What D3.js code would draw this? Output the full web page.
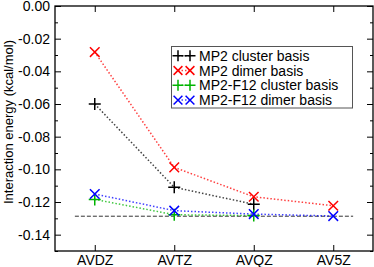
<!DOCTYPE html>
<html>
<head>
<meta charset="utf-8">
<script src="https://cdn.jsdelivr.net/npm/d3@7"></script>
<style>
  body { margin: 0; background: #fff; }
  svg { display: block; font-family: "Liberation Sans", Arial, sans-serif; }
</style>
</head>
<body>
<div class="canvas"></div>
<script>
// Data
const basisSets = ['AVDZ', 'AVTZ', 'AVQZ', 'AV5Z'];
const mp2Cluster = [-0.0600, -0.1110, -0.1214];
const mp2Dimer = [-0.0282, -0.0988, -0.1168, -0.1223];
const f12Cluster = [-0.1184, -0.1278, -0.1283];
const f12Dimer = [-0.1151, -0.1253, -0.1274, -0.1286];
const referenceEnergy = -0.1287;
const yTicks = [0, -0.02, -0.04, -0.06, -0.08, -0.10, -0.12, -0.14];

const seriesList = [
    {name: 'MP2 cluster basis', values: mp2Cluster, color: '#000000', marker: 'plus'},
    {name: 'MP2 dimer basis', values: mp2Dimer, color: '#ff0000', marker: 'cross'},
    {name: 'MP2-F12 cluster basis', values: f12Cluster, color: '#00b400', marker: 'plus'},
    {name: 'MP2-F12 dimer basis', values: f12Dimer, color: '#0000ff', marker: 'cross'}
];

const width = 374;
const height = 267;
const margin = {top: 6, right: 1, bottom: 16, left: 55};
const graphWidth = width - margin.left - margin.right;
const graphHeight = height - margin.top - margin.bottom;

const svg = d3.select('.canvas')
    .append('svg')
    .attr('width', width)
    .attr('height', height);

const graph = svg.append('g')
    .attr('transform', `translate(${margin.left}, ${margin.top})`);

// x is in category units: 1..4, with half a step of padding each side
const x = d3.scaleLinear().domain([0.5, 4.5]).range([0, graphWidth]);
const y = d3.scaleLinear().domain([-0.15, 0]).range([graphHeight, 0]);

const minorTicks = d3.range(0, 8).map(i => -0.01 - i * 0.02);

// Reference dashed line
graph.append('line')
    .attr('x1', x(0.75))
    .attr('x2', x(4.25))
    .attr('y1', y(referenceEnergy))
    .attr('y2', y(referenceEnergy))
    .attr('stroke', '#333')
    .attr('stroke-width', 1)
    .attr('stroke-dasharray', '4,2');

const line = d3.line()
    .x((d, i) => x(i + 1))
    .y(d => y(d));

const drawMarker = (g, type, cx, cy, color, size) => {
    const h = size / 2;
    const k = h * 0.8;
    const p = type === 'plus'
        ? `M${cx - h},${cy}H${cx + h}M${cx},${cy - h}V${cy + h}`
        : `M${cx - k},${cy - k}L${cx + k},${cy + k}M${cx - k},${cy + k}L${cx + k},${cy - k}`;
    g.append('path')
        .attr('d', p)
        .attr('fill', 'none')
        .attr('stroke', color)
        .attr('stroke-width', 1.5);
};

seriesList.forEach(s => {
    graph.append('path')
        .datum(s.values)
        .attr('fill', 'none')
        .attr('stroke', s.color)
        .attr('stroke-width', 1.5)
        .attr('stroke-dasharray', '1.5,2')
        .attr('opacity', 0.75)
        .attr('d', line);
});

seriesList.forEach(s => {
    s.values.forEach((v, i) => drawMarker(graph, s.marker, x(i + 1), y(v), s.color, 12));
});

// Axes, ticks drawn inward on all four sides
const tickSize = 6;
const minorSize = 3;
const fmt = d => d3.format('.2f')(d).replace('\u2212', '-');

graph.append('g')
    .call(d3.axisLeft(y).tickValues(yTicks).tickSize(-tickSize).tickPadding(5).tickFormat(fmt));
graph.append('g')
    .call(d3.axisLeft(y).tickValues(minorTicks).tickSize(-minorSize).tickFormat(''));
graph.append('g')
    .attr('transform', `translate(${graphWidth}, 0)`)
    .call(d3.axisRight(y).tickValues(yTicks).tickSize(-tickSize).tickFormat(''));
graph.append('g')
    .attr('transform', `translate(${graphWidth}, 0)`)
    .call(d3.axisRight(y).tickValues(minorTicks).tickSize(-minorSize).tickFormat(''));

graph.append('g')
    .attr('transform', `translate(0, ${graphHeight})`)
    .call(d3.axisBottom(x).tickValues([1, 2, 3, 4]).tickSize(-tickSize).tickPadding(4)
        .tickFormat(d => basisSets[d - 1]));
graph.append('g')
    .call(d3.axisTop(x).tickValues([1, 2, 3, 4]).tickSize(-tickSize).tickFormat(''));

graph.selectAll('.domain').remove();
graph.selectAll('.tick line').attr('stroke', '#000').attr('stroke-width', 1);
graph.selectAll('.tick text').attr('fill', '#000').style('font-size', '14px')
    .style('font-family', '"Liberation Sans", Arial, sans-serif');

// Frame
graph.append('rect')
    .attr('width', graphWidth)
    .attr('height', graphHeight)
    .attr('fill', 'none')
    .attr('stroke', '#000')
    .attr('stroke-width', 1.3);

// Y label
svg.append('text')
    .attr('transform', 'translate(13, 122) rotate(-90)')
    .attr('text-anchor', 'middle')
    .style('font-size', '13px')
    .text('Interaction energy (kcal/mol)');

// Legend
const legend = svg.append('g');
legend.append('rect')
    .attr('x', 171.5)
    .attr('y', 46.5)
    .attr('width', 181)
    .attr('height', 61.5)
    .attr('fill', '#fff')
    .attr('stroke', '#555')
    .attr('stroke-width', 1);

seriesList.forEach((s, i) => {
    const cy = 55.7 + i * 14.8;
    legend.append('line')
        .attr('x1', 178).attr('x2', 190)
        .attr('y1', cy).attr('y2', cy)
        .attr('stroke', s.color)
        .attr('stroke-width', 1.5)
        .attr('stroke-dasharray', '1.5,2')
        .attr('opacity', 0.75);
    drawMarker(legend, s.marker, 178, cy, s.color, 11);
    drawMarker(legend, s.marker, 190, cy, s.color, 11);
    legend.append('text')
        .attr('x', 199)
        .attr('y', cy + 5)
        .style('font-size', '14px')
        .text(s.name);
});
</script>
</body>
</html>
